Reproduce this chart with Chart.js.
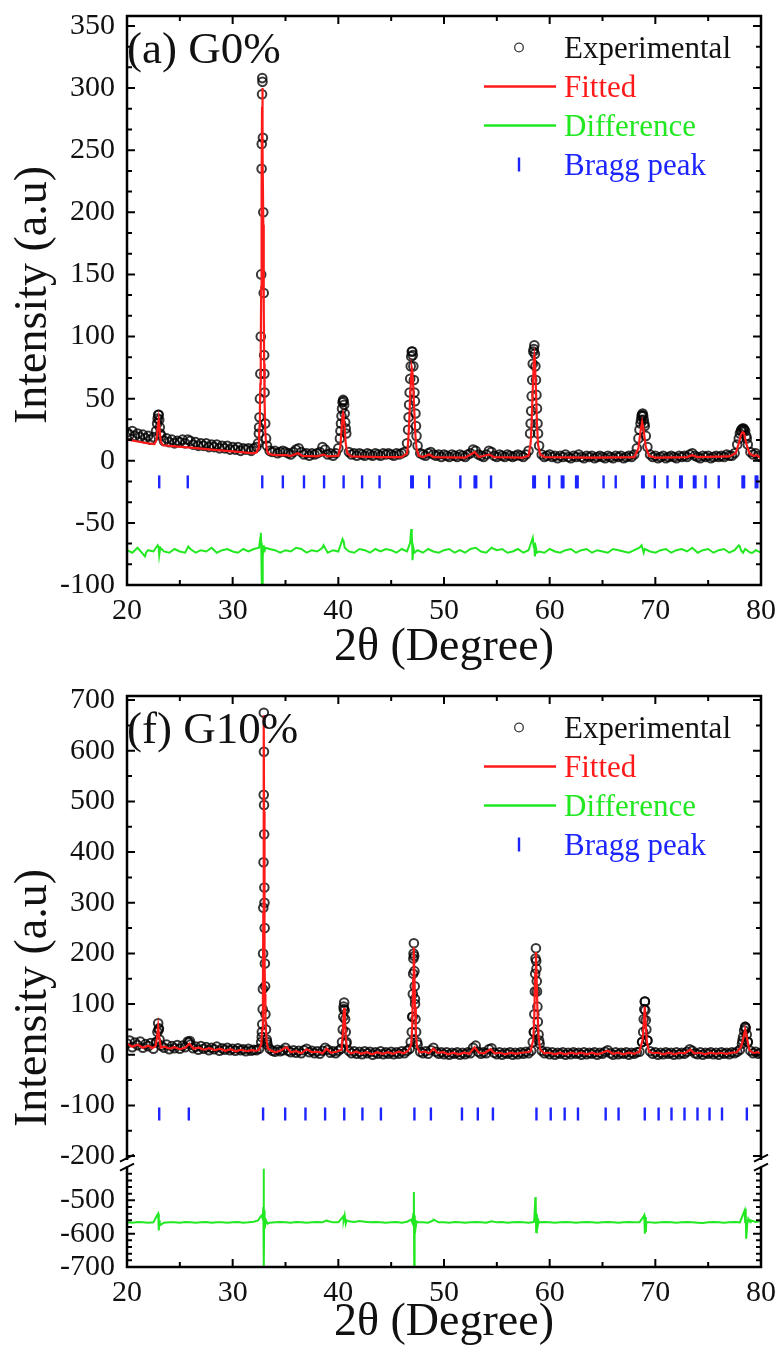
<!DOCTYPE html>
<html>
<head>
<meta charset="utf-8">
<script src="https://cdn.jsdelivr.net/npm/chart.js@4.4.1/dist/chart.umd.min.js"></script>
<style>
  html, body { margin: 0; padding: 0; background: #fff; }
  #wrap { position: relative; width: 776px; height: 1351px; overflow: hidden; }
  canvas { position: absolute; left: 0; }
  #chartTop { top: 0; }
  #chartBottom { top: 680px; }
</style>
</head>
<body>
<div id="wrap">
  <canvas id="chartTop" width="776" height="680"></canvas>
  <canvas id="chartBottom" width="776" height="671"></canvas>
</div>
<script>
// ---------------- data ----------------
const xTickLabels = [20, 30, 40, 50, 60, 70, 80];
const obsGridStart = 20, obsGridStep = 0.25;   // experimental scan grid (2theta)
const diffGridStart = 20, diffGridStep = 0.5;

// --- (a) G0% ---
const g0YTicks = [-100, -50, 0, 50, 100, 150, 200, 250, 300, 350];

const g0ObsGrid = [
  23, 21, 24, 20, 22, 19, 21, 18, 20, 17, 19, 24, 37, 20, 16, 18, 15, 17, 14, 16,   // 20 - 24.75
  15, 17, 14, 17, 16, 13, 15, 12, 14, 12, 14, 11, 13, 11, 13, 10, 12, 10, 12, 9,    // 25 - 29.75
  11, 9, 11, 8, 10, 9, 10, 8, 10, 11, 27, 255, 70, 12, 8, 7, 8, 6, 7, 8,            // 30 - 34.75
  7, 6, 5, 7, 9, 10, 7, 5, 6, 4, 6, 5, 6, 7, 11, 9, 5, 6, 4, 6,                     // 35 - 39.75
  10, 30, 48, 22, 7, 5, 6, 4, 6, 5, 4, 6, 5, 4, 6, 5, 4, 6, 5, 6,                   // 40 - 44.75
  5, 4, 6, 5, 6, 7, 14, 55, 88, 48, 12, 6, 5, 4, 6, 7, 5, 4, 5, 3,                  // 45 - 49.75
  5, 4, 3, 5, 4, 3, 5, 4, 3, 5, 6, 9, 8, 5, 4, 3, 5, 8, 7, 4,                       // 50 - 54.75
  3, 5, 4, 3, 5, 4, 3, 4, 5, 4, 3, 5, 8, 40, 90, 53, 12, 5, 3, 4,                   // 55 - 59.75
  5, 3, 4, 2, 4, 3, 5, 3, 2, 4, 3, 5, 3, 2, 4, 3, 4, 2, 3, 4,                       // 60 - 64.75
  3, 2, 4, 3, 2, 4, 3, 4, 2, 3, 4, 3, 5, 10, 25, 37, 28, 11, 5, 3,                  // 65 - 69.75
  4, 2, 3, 4, 2, 3, 4, 3, 2, 4, 3, 4, 3, 5, 6, 4, 3, 2, 4, 3,                       // 70 - 74.75
  4, 2, 3, 4, 3, 4, 3, 5, 4, 4, 6, 13, 22, 26, 24, 13, 7, 5, 6, 4,                  // 75 - 79.75
  3
];
const g0ObsPeaks = [
  [22.85, 30], [22.9, 34], [22.95, 37], [23.05, 33], [23.1, 27], [23.15, 22],
  [32.4, 14], [32.48, 22], [32.54, 35], [32.58, 50], [32.62, 70], [32.66, 100], [32.7, 150],
  [32.74, 235], [32.78, 295], [32.8, 308], [32.82, 305], [32.86, 260], [32.9, 200], [32.94, 135],
  [32.98, 85], [33.02, 55], [33.08, 30], [33.16, 18],
  [40.15, 18], [40.2, 24], [40.3, 36], [40.35, 42], [40.4, 47], [40.45, 49], [40.55, 45],
  [40.6, 38], [40.65, 31], [40.7, 26],
  [46.6, 25], [46.65, 35], [46.7, 45], [46.8, 66], [46.85, 76], [46.9, 84], [46.95, 88],
  [47.05, 85], [47.1, 76], [47.15, 65], [47.2, 55], [47.3, 38], [47.35, 28], [47.4, 20],
  [58.15, 22], [58.2, 30], [58.3, 52], [58.35, 65], [58.4, 78], [58.45, 88], [58.55, 93],
  [58.6, 86], [58.65, 76], [58.7, 65], [58.8, 42], [58.85, 30], [58.9, 22],
  [68.4, 18], [68.6, 30], [68.65, 33], [68.7, 36], [68.8, 38], [68.85, 36], [68.9, 33],
  [68.95, 30], [69.1, 20],
  [77.9, 18], [78.1, 24], [78.15, 25], [78.35, 26], [78.4, 25], [78.6, 20], [78.65, 18]
];
const g0Fit = [
  [20, 17], [21, 15.5], [22, 14], [22.6, 13.5], [22.8, 17], [22.9, 26], [23.0, 33], [23.1, 24],
  [23.2, 15], [23.4, 12.5], [24, 12], [26, 10.5], [28, 9], [30, 7.5], [32, 6], [32.3, 7],
  [32.4, 10], [32.48, 16], [32.54, 28], [32.58, 42], [32.62, 62], [32.66, 92], [32.7, 140],
  [32.74, 222], [32.78, 285], [32.8, 300], [32.82, 296], [32.86, 250], [32.9, 190], [32.94, 125],
  [32.98, 78], [33.02, 48], [33.08, 25], [33.16, 14], [33.26, 8], [33.4, 5.5], [34, 4.5],
  [35, 4.5], [35.5, 4], [36.2, 6], [36.6, 4], [38, 3.5], [38.6, 5], [39, 3.5], [40, 4],
  [40.2, 12], [40.3, 25], [40.4, 36], [40.45, 38], [40.5, 36], [40.6, 26], [40.7, 14],
  [40.85, 6], [41.2, 3.5], [44, 3], [46, 3], [46.5, 6], [46.6, 14], [46.7, 30], [46.8, 52],
  [46.9, 70], [46.95, 75], [47.0, 73], [47.1, 58], [47.2, 38], [47.3, 20], [47.4, 10],
  [47.6, 4], [48, 3], [48.6, 5], [49, 3], [52, 2.5], [52.9, 7], [53.3, 3], [54.3, 5],
  [54.7, 3], [57.5, 2.5], [58, 4], [58.2, 14], [58.3, 32], [58.4, 58], [58.5, 80], [58.55, 84],
  [58.6, 80], [58.7, 58], [58.8, 30], [58.9, 13], [59.1, 5], [59.5, 3], [64, 2.5], [68, 3],
  [68.4, 10], [68.6, 24], [68.75, 31], [68.9, 24], [69.1, 11], [69.4, 4], [70, 2.5], [73, 3],
  [73.5, 4.5], [74, 3], [77, 3.5], [77.6, 6], [77.9, 14], [78.1, 21], [78.25, 23], [78.4, 22],
  [78.6, 14], [78.9, 6], [79.3, 4], [79.6, 4.5], [80, 2]
];
const g0DiffGrid = [
  -72, -74, -70, -75, -72, -73, -70, -73, -74, -71,   // 20 - 24.5
  -73, -74, -71, -74, -72, -73, -70, -74, -72, -71,   // 25 - 29.5
  -73, -74, -71, -73, -71, -70, -73, -71, -72, -74,   // 30 - 34.5
  -72, -73, -70, -71, -74, -72, -73, -70, -74, -72,   // 35 - 39.5
  -73, -65, -73, -74, -71, -72, -74, -71, -73, -71,   // 40 - 44.5
  -72, -74, -71, -73, -70, -72, -74, -71, -73, -74,   // 45 - 49.5
  -72, -71, -74, -72, -74, -71, -70, -73, -74, -70,   // 50 - 54.5
  -72, -71, -74, -73, -71, -74, -72, -70, -73, -74,   // 55 - 59.5
  -71, -73, -74, -72, -71, -74, -72, -71, -74, -72,   // 60 - 64.5
  -73, -74, -71, -72, -73, -74, -72, -70, -71, -73,   // 65 - 69.5
  -74, -72, -71, -74, -72, -71, -73, -70, -74, -72,   // 70 - 74.5
  -71, -74, -72, -71, -74, -72, -69, -71, -74, -72,   // 75 - 79.5
  -74
];
const g0DiffPeaks = [
  [21.7, -77], [21.8, -74], [22.9, -68], [23.05, -76], [23.15, -70], [25.8, -69],
  [32.55, -70], [32.62, -62], [32.66, -58], [32.7, -66], [32.74, -80], [32.77, -98], [32.8, -100],
  [32.83, -95], [32.86, -78], [32.9, -68], [32.95, -73], [33.1, -70],
  [38.6, -68], [40.4, -63], [40.45, -64], [40.6, -70],
  [46.8, -66], [46.9, -55], [46.95, -60], [47.02, -80], [47.1, -70], [47.2, -74],
  [58.4, -62], [58.52, -66], [58.6, -77], [58.7, -70], [58.8, -74],
  [68.7, -68], [68.9, -74], [77.9, -68], [78.1, -72], [78.3, -74], [79.2, -74]
];
const g0Bragg = [
  23.05, 25.75, 32.8, 34.75, 36.75, 38.65, 40.5, 42.25, 43.9, 46.9, 47.05, 48.6, 51.55, 52.9,
  53.05, 54.45, 58.45, 58.6, 59.95, 61.15, 61.3, 62.5, 62.65, 65.1, 66.25, 68.75, 68.9, 69.95,
  71.15, 72.35, 72.5, 73.65, 73.8, 74.75, 76.0, 78.25, 78.4, 79.5, 79.65
];
const g0BraggLevel = -17;

// --- (f) G10% ---
const g10YTicksUpper = [-200, -100, 0, 100, 200, 300, 400, 500, 600, 700];
const g10YTicksLower = [-700, -600, -500];

const g10ObsGrid = [
  22, 28, 15, 24, 19, 26, 14, 21, 17, 23, 12, 25, 50, 18, 14, 20, 11, 17, 13, 19,   // 20 - 24.75
  12, 18, 15, 26, 20, 13, 16, 10, 17, 12, 15, 9, 14, 11, 16, 8, 13, 10, 14, 9,      // 25 - 29.75
  12, 8, 13, 9, 11, 7, 12, 8, 10, 9, 12, 35, 330, 25, 12, 8, 6, 10, 7, 9,           // 30 - 34.75
  14, 8, 5, 9, 4, 8, 3, 9, 12, 5, 8, 3, 7, 2, 8, 14, 10, 4, 7, 3,                   // 35 - 39.75
  8, 12, 95, 22, 8, 3, 7, 2, 6, 1, 7, 3, 6, 0, 5, 2, 7, 1, 5, 2,                    // 40 - 44.75
  6, 1, 5, 2, 7, 3, 8, 12, 75, 110, 20, 6, 3, 7, 2, 9, 14, 6, 2, 5,                 // 45 - 49.75
  1, 5, 0, 4, 2, 5, 0, 4, 1, 5, 3, 14, 18, 6, 2, 5, 3, 11, 13, 4,                   // 50 - 54.75
  1, 5, 0, 4, 2, 5, 0, 4, 1, 5, 2, 6, 3, 8, 45, 170, 28, 8, 3, 6,                   // 55 - 59.75
  1, 5, 0, 4, 2, 5, 0, 4, 1, 5, 2, 4, 0, 5, 1, 4, 2, 5, 0, 4,                       // 60 - 64.75
  2, 6, 9, 3, 0, 5, 1, 4, 2, 5, 0, 4, 2, 5, 6, 25, 105, 28, 7, 2,                   // 65 - 69.75
  5, 0, 4, 1, 5, 2, 4, 0, 5, 1, 4, 2, 6, 11, 8, 3, 1, 5, 0, 4,                      // 70 - 74.75
  2, 5, 1, 4, 0, 5, 2, 4, 1, 5, 3, 6, 10, 28, 55, 25, 8, 3, 6, 2,                   // 75 - 79.75
  4
];
const g10ObsPeaks = [
  [22.8, 25], [22.88, 45], [22.95, 62], [23.02, 52], [23.08, 30], [25.85, 24], [25.95, 27],
  [32.7, 25], [32.76, 45], [32.8, 60], [32.84, 90], [32.86, 130], [32.88, 200], [32.9, 290],
  [32.92, 380], [32.94, 513], [32.95, 675], [32.96, 598], [32.97, 493], [32.98, 435],
  [33.01, 300], [33.03, 250], [33.05, 180], [33.07, 135], [33.1, 80], [33.15, 50], [33.22, 30],
  [33.3, 20],
  [40.35, 25], [40.42, 50], [40.47, 75], [40.52, 90], [40.55, 103], [40.6, 88], [40.64, 70],
  [40.7, 45], [40.78, 25],
  [46.85, 25], [46.95, 45], [47.02, 75], [47.05, 120], [47.08, 160], [47.1, 190], [47.12, 200],
  [47.15, 220], [47.18, 195], [47.2, 165], [47.23, 135], [47.26, 100], [47.3, 70], [47.36, 45],
  [47.45, 25],
  [58.4, 25], [58.52, 45], [58.55, 80], [58.6, 125], [58.63, 160], [58.66, 190], [58.7, 210],
  [58.73, 185], [58.78, 145], [58.8, 125], [58.84, 95], [58.88, 65], [58.95, 40], [59.05, 22],
  [68.75, 25], [68.85, 45], [68.9, 70], [68.95, 90], [69.02, 105], [69.05, 88], [69.1, 68],
  [69.15, 50], [69.25, 28],
  [78.2, 22], [78.3, 35], [78.4, 48], [78.52, 55], [78.55, 52], [78.65, 40], [78.75, 25]
];
const g10Fit = [
  [20, 22], [20.5, 16], [21, 20], [21.5, 14], [22, 18], [22.4, 13], [22.7, 17], [22.85, 35],
  [22.95, 55], [23.05, 35], [23.2, 14], [23.6, 16], [24, 12], [24.5, 15], [25, 11], [25.5, 14],
  [25.9, 22], [26.3, 12], [26.8, 14], [27.3, 10], [27.8, 13], [28.3, 9], [28.8, 12], [29.3, 8],
  [29.8, 11], [30.3, 7], [30.8, 10], [31.3, 7], [31.8, 9], [32.2, 8], [32.5, 10], [32.7, 20],
  [32.8, 50], [32.86, 120], [32.9, 280], [32.93, 470], [32.95, 670], [32.97, 480], [33.0, 320],
  [33.03, 200], [33.06, 120], [33.1, 70], [33.2, 28], [33.35, 12], [33.6, 9], [34, 5],
  [34.5, 8], [35.1, 15], [35.5, 5], [36, 7], [36.5, 3], [37, 11], [37.5, 5], [38, 6],
  [38.5, 3], [38.9, 12], [39.3, 4], [39.8, 6], [40.3, 10], [40.42, 40], [40.5, 80], [40.55, 92],
  [40.62, 70], [40.72, 30], [40.85, 8], [41.2, 3], [41.7, 6], [42.2, 2], [42.7, 5], [43.2, 1],
  [43.7, 5], [44.2, 2], [44.7, 5], [45.2, 2], [45.7, 6], [46.2, 3], [46.6, 8], [46.9, 20],
  [47.0, 60], [47.08, 150], [47.12, 200], [47.15, 212], [47.2, 160], [47.26, 95], [47.33, 45],
  [47.45, 15], [47.7, 5], [48.2, 6], [48.6, 3], [49, 12], [49.4, 4], [49.9, 5], [50.4, 1],
  [50.9, 4], [51.4, 1], [51.9, 4], [52.4, 2], [52.9, 15], [53.3, 4], [53.8, 3], [54.4, 11],
  [54.8, 3], [55.3, 4], [55.8, 1], [56.3, 4], [56.8, 2], [57.3, 4], [57.8, 5], [58.2, 7],
  [58.45, 30], [58.55, 80], [58.63, 160], [58.7, 203], [58.76, 155], [58.84, 90], [58.95, 35],
  [59.1, 10], [59.5, 3], [60, 4], [60.5, 1], [61, 4], [61.5, 1], [62, 4], [62.5, 2], [63, 4],
  [63.5, 1], [64, 4], [64.5, 1], [65, 4], [65.5, 8], [66, 2], [66.5, 4], [67, 1], [67.5, 4],
  [68, 2], [68.5, 6], [68.8, 30], [68.9, 60], [69.0, 95], [69.08, 65], [69.2, 25], [69.4, 6],
  [69.8, 3], [70.3, 4], [70.8, 1], [71.3, 4], [71.8, 1], [72.3, 4], [72.8, 3], [73.3, 10],
  [73.7, 3], [74.2, 4], [74.7, 1], [75.2, 4], [75.7, 2], [76.2, 4], [76.7, 2], [77.2, 4],
  [77.7, 5], [78.1, 15], [78.3, 30], [78.5, 50], [78.7, 30], [78.9, 9], [79.3, 3], [79.7, 5],
  [80, 2]
];
const g10DiffGrid = [
  -566, -567, -565, -566, -567, -566, -565, -567, -566, -566,   // 20 - 24.5
  -567, -565, -566, -567, -566, -565, -567, -566, -566, -567,   // 25 - 29.5
  -566, -565, -567, -566, -564, -556, -562, -567, -566, -565,   // 30 - 34.5
  -566, -567, -565, -566, -567, -566, -565, -566, -562, -566,   // 35 - 39.5
  -566, -560, -563, -565, -562, -564, -566, -565, -566, -567,   // 40 - 44.5
  -566, -565, -567, -564, -566, -565, -566, -567, -560, -566,   // 45 - 49.5
  -566, -567, -565, -566, -567, -566, -565, -566, -567, -563,   // 50 - 54.5
  -566, -565, -567, -566, -565, -566, -567, -565, -566, -565,   // 55 - 59.5
  -566, -567, -566, -565, -566, -567, -566, -565, -566, -567,   // 60 - 64.5
  -566, -565, -566, -567, -566, -565, -566, -566, -566, -566,   // 65 - 69.5
  -567, -566, -565, -566, -567, -566, -565, -566, -567, -568,   // 70 - 74.5
  -566, -565, -566, -567, -566, -565, -566, -565, -566, -565,   // 75 - 79.5
  -562
];
const g10DiffPeaks = [
  [22.85, -545], [22.95, -540], [23.02, -590], [23.05, -560], [23.1, -575],
  [32.4, -560], [32.6, -550], [32.75, -545], [32.85, -555], [32.9, -520], [32.93, -405],
  [32.96, -700], [32.99, -530], [33.05, -585], [33.15, -560], [33.3, -570],
  [38.9, -560], [40.48, -548], [40.6, -545], [40.7, -570], [40.8, -560],
  [46.9, -558], [47.1, -540], [47.15, -475], [47.18, -700], [47.22, -545], [47.3, -585],
  [47.4, -563], [49.02, -558],
  [58.55, -555], [58.65, -490], [58.68, -500], [58.72, -595], [58.78, -540], [58.85, -580],
  [58.95, -562],
  [68.9, -548], [68.95, -545], [69.02, -600], [69.05, -550], [69.1, -595], [69.15, -565],
  [78.45, -530], [78.55, -525], [78.6, -615], [78.7, -570], [78.8, -555], [79.02, -560]
];
const g10Bragg = [
  23.05, 25.85, 32.88, 34.97, 36.89, 38.75, 40.56, 42.28, 44.03, 47.2, 48.76, 51.7, 53.2,
  54.63, 58.75, 60.1, 61.42, 62.68, 65.3, 66.52, 69.0, 70.31, 71.53, 72.76, 73.99, 75.13,
  76.31, 78.66
];
const g10BraggLevel = -117;

// ---------------- helpers ----------------
const serif = "'Liberation Serif', 'Times New Roman', Times, serif";
Chart.defaults.font.family = serif;
Chart.defaults.color = '#111';

const colObs = 'rgba(0,0,0,0.78)';
const colFit = '#ff1a1a';
const colDiff = '#22e822';
const colBragg = '#1c24ff';

function gridPoints(values, start, step) {
    return values.map((y, i) => ({ x: Math.round((start + i * step) * 100) / 100, y: y }));
}
function pairPoints(pairs) {
    return pairs.map(p => ({ x: p[0], y: p[1] }));
}
function byX(a, b) { return a.x - b.x; }

function buildDatasets(obsGrid, obsPeaks, fit, diffGrid, diffPeaks, bragg, braggLevel, diffAxis) {
    return [
        {
            label: 'Experimental', symbol: 'circle', textColor: '#111',
            data: gridPoints(obsGrid, obsGridStart, obsGridStep).concat(pairPoints(obsPeaks)),
            showLine: false, pointStyle: 'circle', pointRadius: 4.3, pointBorderWidth: 2,
            pointBorderColor: colObs, pointBackgroundColor: 'rgba(0,0,0,0)',
            borderColor: colObs, backgroundColor: 'rgba(0,0,0,0)',
            yAxisID: 'y', order: 2
        },
        {
            label: 'Fitted', symbol: 'line', textColor: colFit,
            data: pairPoints(fit),
            showLine: true, pointRadius: 0, borderColor: colFit, borderWidth: 2.2,
            yAxisID: 'y', order: 1
        },
        {
            label: 'Difference', symbol: 'line', textColor: colDiff,
            data: gridPoints(diffGrid, diffGridStart, diffGridStep).concat(pairPoints(diffPeaks)).sort(byX),
            showLine: true, pointRadius: 0, borderColor: colDiff, borderWidth: 2,
            yAxisID: diffAxis, order: 3
        },
        {
            label: 'Bragg peak', symbol: 'tick', textColor: colBragg,
            data: bragg.map(x => ({ x: x, y: braggLevel })),
            showLine: false, pointStyle: 'line', pointRotation: 90, pointRadius: 6.5,
            pointBorderWidth: 2.4, pointBorderColor: colBragg, borderColor: colBragg,
            yAxisID: 'y', order: 4
        }
    ];
}

// frame + inward ticks on all four sides, optional axis break
const frameTicks = {
    id: 'frameTicks',
    afterDatasetsDraw(chart, args, o) {
        const ctx = chart.ctx;
        const a = chart.chartArea;
        const xs = chart.scales.x;
        const brk = o.breakAxis ? chart.scales[o.breakAxis].bottom : null;
        ctx.save();
        ctx.strokeStyle = '#000';
        ctx.lineWidth = 2;
        ctx.beginPath();
        const xTick = (v, len) => {
            const p = xs.getPixelForValue(v);
            ctx.moveTo(p, a.bottom); ctx.lineTo(p, a.bottom - len);
            ctx.moveTo(p, a.top); ctx.lineTo(p, a.top + len);
        };
        xs.ticks.forEach(t => xTick(t.value, o.majorLen));
        for (let v = xs.min + o.xMinorStep; v < xs.max; v += o.xMinorStep) xTick(v, o.minorLen);

        o.yAxes.forEach(ax => {
            const s = chart.scales[ax.id];
            const yTick = (v, len) => {
                const p = s.getPixelForValue(v);
                if (p < s.top - 0.5 || p > s.bottom + 0.5) return;
                if (brk !== null && Math.abs(p - brk) < 7) return;
                ctx.moveTo(a.left, p); ctx.lineTo(a.left + len, p);
                ctx.moveTo(a.right, p); ctx.lineTo(a.right - len, p);
            };
            s.ticks.forEach(t => yTick(t.value, o.majorLen));
            const first = Math.ceil(s.min / ax.minorStep - 1e-9);
            for (let k = first; k * ax.minorStep <= s.max + 1e-9; k++) yTick(k * ax.minorStep, o.minorLen);
        });
        ctx.stroke();

        ctx.lineWidth = 2.5;
        ctx.lineCap = 'square';
        ctx.beginPath();
        ctx.moveTo(a.left, a.top); ctx.lineTo(a.right, a.top);
        ctx.moveTo(a.left, a.bottom); ctx.lineTo(a.right, a.bottom);
        [a.left, a.right].forEach(x => {
            if (brk === null) {
                ctx.moveTo(x, a.top); ctx.lineTo(x, a.bottom);
            } else {
                ctx.moveTo(x, a.top); ctx.lineTo(x, brk - 5);
                ctx.moveTo(x, brk + 4); ctx.lineTo(x, a.bottom);
            }
        });
        ctx.stroke();
        if (brk !== null) {
            ctx.lineWidth = 2;
            ctx.lineCap = 'butt';
            ctx.beginPath();
            [a.left, a.right].forEach(x => {
                ctx.moveTo(x - 7, brk - 2); ctx.lineTo(x + 7, brk - 9);
                ctx.moveTo(x - 7, brk + 7); ctx.lineTo(x + 7, brk);
            });
            ctx.stroke();
        }
        ctx.restore();
    }
};

// legend inside the plot, panel label and rotated y title
const panelText = {
    id: 'panelText',
    afterDraw(chart, args, o) {
        const ctx = chart.ctx;
        const a = chart.chartArea;
        ctx.save();
        ctx.font = '45px ' + serif;
        ctx.fillStyle = '#111';
        ctx.textAlign = 'left';
        ctx.textBaseline = 'alphabetic';
        ctx.fillText(o.panel, a.left, a.top + 47);

        ctx.font = '31px ' + serif;
        chart.data.datasets.forEach((ds, i) => {
            const base = a.top + o.baselines[i];
            const mid = base - 10.5;
            ctx.strokeStyle = ds.borderColor;
            ctx.beginPath();
            if (ds.symbol === 'circle') {
                ctx.lineWidth = 1.3;
                ctx.arc(o.symbolX, mid, 4.3, 0, Math.PI * 2);
            } else if (ds.symbol === 'line') {
                ctx.lineWidth = 2.4;
                ctx.moveTo(o.lineX0, mid); ctx.lineTo(o.lineX1, mid);
            } else {
                ctx.lineWidth = 2.4;
                ctx.moveTo(o.symbolX, mid - 7); ctx.lineTo(o.symbolX, mid + 7);
            }
            ctx.stroke();
            ctx.fillStyle = ds.textColor;
            ctx.fillText(ds.label, o.textX, base);
        });

        ctx.font = '46px ' + serif;
        ctx.fillStyle = '#111';
        ctx.translate(o.yTitleX, o.yTitleY);
        ctx.rotate(-Math.PI / 2);
        ctx.textAlign = 'center';
        ctx.textBaseline = 'middle';
        ctx.fillText('Intensity (a.u)', 0, 0);
        ctx.restore();
    }
};

const tickFontX = { family: serif, size: 30, lineHeight: 1.2 };
const tickFontY = { family: serif, size: 30, lineHeight: 0.8 };
const legendLayout = { symbolX: 519, lineX0: 484, lineX1: 556, textX: 564, baselines: [42, 81, 120, 159] };

function xScale(axisHeight, titlePad) {
    return {
        type: 'linear', position: 'bottom', min: 20, max: 80,
        grid: { display: false }, border: { display: false },
        afterBuildTicks: s => { s.ticks = xTickLabels.map(v => ({ value: v })); },
        afterFit: s => { s.height = axisHeight; },
        ticks: { font: tickFontX, color: '#111', padding: 0, maxRotation: 0, autoSkip: false, callback: v => String(v) },
        title: { display: true, text: '2θ (Degree)', color: '#111', font: { family: serif, size: 46, lineHeight: 1 }, padding: { top: 0, bottom: titlePad } }
    };
}
function yScale(min, max, tickList, extra) {
    return Object.assign({
        type: 'linear', position: 'left', min: min, max: max,
        grid: { display: false }, border: { display: false },
        afterBuildTicks: s => { s.ticks = tickList.map(v => ({ value: v })); },
        afterFit: s => { s.width = 127; },
        ticks: { font: tickFontY, color: '#111', padding: 4, autoSkip: false, callback: v => String(v) }
    }, extra || {});
}

// ---------------- (a) G0% ----------------
new Chart(document.getElementById('chartTop'), {
    type: 'scatter',
    data: { datasets: buildDatasets(g0ObsGrid, g0ObsPeaks, g0Fit, g0DiffGrid, g0DiffPeaks, g0Bragg, g0BraggLevel, 'y') },
    options: {
        responsive: false, animation: false, devicePixelRatio: 1, events: [],
        layout: { padding: { top: 13, right: 15, left: 0, bottom: 0 } },
        plugins: {
            legend: { display: false }, tooltip: { enabled: false },
            frameTicks: { majorLen: 8, minorLen: 5, xMinorStep: 5, yAxes: [{ id: 'y', minorStep: 50 / 3 }] },
            panelText: Object.assign({ panel: '(a) G0%', yTitleX: 34, yTitleY: 295 }, legendLayout)
        },
        scales: {
            x: xScale(95, 9),
            y: yScale(-100, 358, g0YTicks)
        }
    },
    plugins: [frameTicks, panelText]
});

// ---------------- (f) G10% (broken y axis) ----------------
new Chart(document.getElementById('chartBottom'), {
    type: 'scatter',
    data: { datasets: buildDatasets(g10ObsGrid, g10ObsPeaks, g10Fit, g10DiffGrid, g10DiffPeaks, g10Bragg, g10BraggLevel, 'yLow') },
    options: {
        responsive: false, animation: false, devicePixelRatio: 1, events: [],
        layout: { padding: { top: 13, right: 15, left: 0, bottom: 0 } },
        plugins: {
            legend: { display: false }, tooltip: { enabled: false },
            frameTicks: { majorLen: 8, minorLen: 5, xMinorStep: 5, breakAxis: 'y',
                yAxes: [{ id: 'y', minorStep: 50 }, { id: 'yLow', minorStep: 20 }] },
            panelText: Object.assign({ panel: '(f) G10%', yTitleX: 34, yTitleY: 318 }, legendLayout)
        },
        scales: {
            x: xScale(84, 5),
            y: yScale(-215, 708, g10YTicksUpper, { stack: 'seg', stackWeight: 471, weight: 2 }),
            yLow: yScale(-700, -390, g10YTicksLower, { stack: 'seg', stackWeight: 104, weight: 1 })
        }
    },
    plugins: [frameTicks, panelText]
});
</script>
</body>
</html>
